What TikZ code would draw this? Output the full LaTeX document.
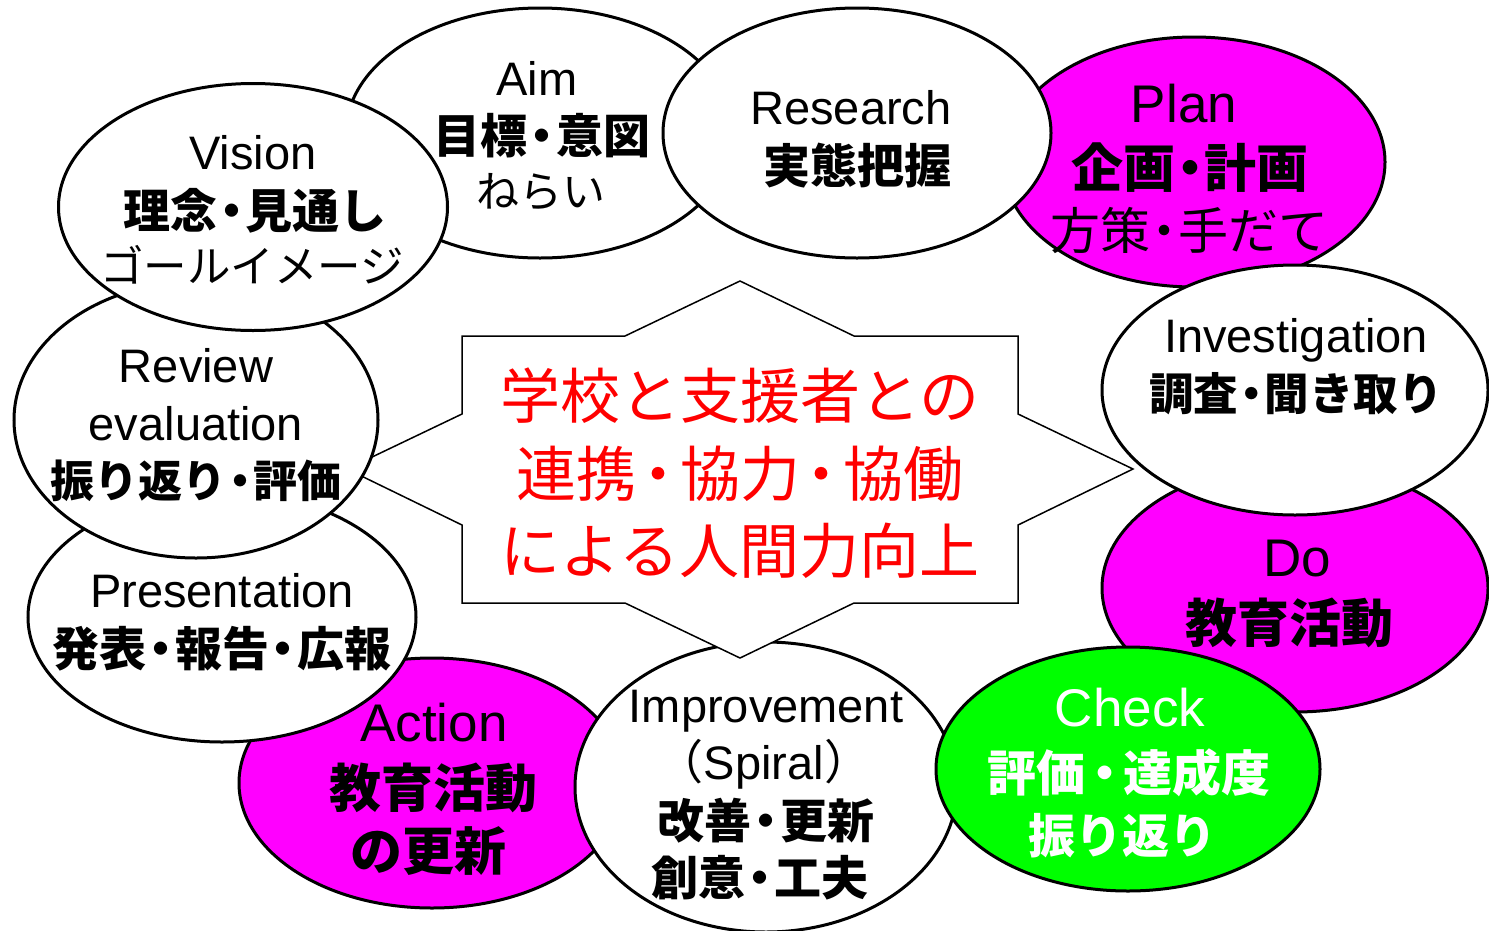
\documentclass[tikz,border=0pt]{standalone}
\usepackage{fontspec}
\setmainfont{Liberation Sans}
\newfontfamily\jp{Noto Sans CJK JP}
\usetikzlibrary{shapes.geometric}
\definecolor{mag}{RGB}{255,0,255}
\definecolor{grn}{RGB}{0,255,0}
\definecolor{rd}{RGB}{255,0,0}
\newcommand{\dt}[1][-0.2em]{\kern#1・\kern#1}
\newcommand{\fs}[1]{\fontsize{#1}{#1}\selectfont}
\tikzset{
  oval/.style={ellipse, draw=black, line width=3pt, fill=white, inner sep=0pt},
  en/.style={font=\fs{47}, inner sep=0pt, anchor=base},
  enL/.style={font=\fs{53}, inner sep=0pt, anchor=base},
  jb/.style={font=\jp\bfseries\fs{47}, inner sep=0pt, anchor=base},
  jbL/.style={font=\jp\bfseries\fs{52}, inner sep=0pt, anchor=base},
  jr/.style={font=\jp\fs{47}, inner sep=0pt, anchor=base},
  red/.style={font=\jp\fs{60}, text=rd, inner sep=0pt, anchor=base},
  star/.style={draw=black, line width=1.5pt, fill=white}
}
\begin{document}
\begin{tikzpicture}[x=1pt, y=-1pt]
\useasboundingbox[fill=white] (0,0) rectangle (1489,930);
% ellipses, back to front
\node[oval, fill=mag, minimum width=382pt, minimum height=250pt] (plan) at (1194,162) {};
\node[oval, minimum width=388pt, minimum height=250pt] (aim) at (540,133) {};
\node[oval, minimum width=388pt, minimum height=250pt] (research) at (857,133) {};
\node[oval, fill=mag, minimum width=386pt, minimum height=248pt] (do) at (1295,588) {};
\node[oval, minimum width=386pt, minimum height=250pt] (invest) at (1295,390) {};
\node[oval, fill=mag, minimum width=386pt, minimum height=250pt] (action) at (432,783) {};
\node[oval, minimum width=382pt, minimum height=290pt] (improve) at (766,787) {};
\node[oval, fill=grn, minimum width=384pt, minimum height=244pt] (check) at (1128,769) {};
\node[oval, minimum width=388pt, minimum height=250pt] (present) at (222,617) {};
% star
\draw[star] (740,281) -- (854,336) -- (1018,336) -- (1018,414) -- (1133,469)
  -- (1018,525) -- (1018,603) -- (854,603) -- (740,658) -- (625,603)
  -- (462,603) -- (462,525) -- (347,469) -- (462,414) -- (462,336)
  -- (625,336) -- cycle;
\node[oval, minimum width=364pt, minimum height=276pt] (review) at (196,420) {};
\node[oval, minimum width=389pt, minimum height=247pt] (vision) at (253,207) {};
% texts
\node[en] (aimA) at (537,95) {Aim};
\node[jb] (aimB) at (542,153) {目標\dt 意図};
\node[jr, font=\jp\fs{43}] (aimC) at (541,207) {ねらい};
\node[en] (visA) at (253,169) {Vision};
\node[jb] (visB) at (255,228) {理念\dt 見通し};
\node[jr, font=\jp\fs{43.5}] (visC) at (252,282) {ゴールイメージ};
\node[en] (resA) at (851,124) {Research};
\node[jb] (resB) at (857,183) {実態把握};
\node[enL] (plaA) at (1184,122) {Plan};
\node[jbL] (plaB) at (1190,187) {企画\dt[-0.23em]計画};
\node[jr, font=\jp\fs{50}] (plaC) at (1189,249) {方策\dt[-0.22em]手だて};
\node[en] (invA) at (1296,352) {Investigation};
\node[jb, font=\jp\bfseries\fs{44.5}] (invB) at (1296,410) {調査\dt 聞き取り};
\node[enL] (doA) at (1297,576) {Do};
\node[jbL] (doB) at (1289,642) {教育活動};
\node[enL, text=white] (chkA) at (1130,726) {Check};
\node[jb, font=\jp\bfseries\fs{49}, text=white] (chkB) at (1129,791) {評価\dt[-0.12em]達成度};
\node[jb, text=white] (chkC) at (1122,853) {振り返り};
\node[en] (impA) at (766,722) {Improvement};
\node[en] (impB) at (764,779) {{\jp（}Spiral{\jp）}};
\node[jb] (impC) at (766,838) {改善\dt 更新};
\node[jb] (impD) at (760,895) {創意\dt 工夫};
\node[enL] (actA) at (434,741) {Action};
\node[jbL] (actB) at (433,807) {教育活動};
\node[jbL] (actC) at (428,870) {の更新};
\node[en] (preA) at (222,607) {Presentation};
\node[jb] (preB) at (222,666) {発表\dt 報告\dt 広報};
\node[en] (revA) at (196,382) {Review};
\node[en] (revB) at (196,440) {evaluation};
\node[jb, font=\jp\bfseries\fs{44}] (revC) at (196,497) {振り返り\dt 評価};
\node[red] (cenA) at (740,418) {学校と支援者との};
\node[red] (cenB) at (740,496) {連携\dt[-0.14em]協力\dt[-0.14em]協働};
\node[red] (cenC) at (740,573) {による人間力向上};
\end{tikzpicture}
\end{document}
